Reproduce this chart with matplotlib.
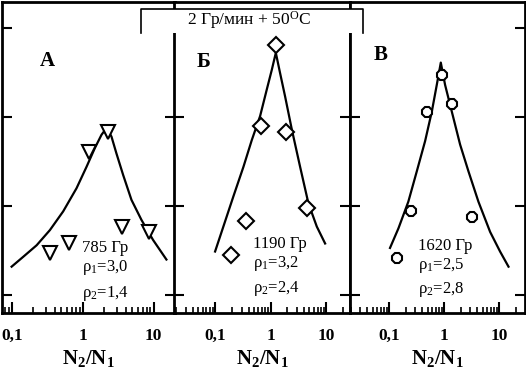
"""
Three panels: N2/N1 distributions after 2 Gy/min + 50 C irradiation.
Saves out.png (526x377).
"""

import matplotlib
matplotlib.use("Agg")
import matplotlib.pyplot as plt
from matplotlib.patches import Rectangle
from matplotlib.lines import Line2D
from matplotlib.ticker import LogLocator, NullFormatter, FixedLocator, FixedFormatter


# =======================
# DATA
# =======================
# panel A (785 Gy) - triangles
a_pts_x = [0.34, 0.63, 1.22, 2.25, 3.54, 8.5]
a_pts_y = [0.47, 0.59, 1.61, 1.83, 0.77, 0.71]
a_fit_x = [0.099, 0.144, 0.223, 0.343, 0.528, 0.815, 1.127, 1.476, 1.834, 2.157,
           2.535, 2.98, 3.70, 4.85, 6.71, 9.78, 15.1]
a_fit_y = [0.32, 0.43, 0.56, 0.73, 0.94, 1.20, 1.44, 1.65, 1.80, 1.875,
           1.78, 1.59, 1.35, 1.07, 0.845, 0.62, 0.40]

# panel B (1190 Gy) - diamonds
b_pts_x = [0.194, 0.362, 0.675, 1.256, 1.90, 4.55]
b_pts_y = [0.45, 0.83, 1.90, 2.81, 1.83, 0.98]
b_fit_x = [0.10, 0.141, 0.214, 0.324, 0.458, 0.647, 0.855, 1.052, 1.242,
           1.484, 1.824, 2.41, 3.40, 4.80, 6.79, 9.59]
b_fit_y = [0.49, 0.77, 1.11, 1.44, 1.74, 2.01, 2.31, 2.53, 2.72,
           2.49, 2.23, 1.86, 1.44, 1.03, 0.77, 0.58]

# panel C (1620 Gy) - circles
c_pts_x = [0.140, 0.251, 0.49, 0.92, 1.40, 3.23]
c_pts_y = [0.42, 0.94, 2.05, 2.47, 2.15, 0.88]
c_fit_x = [0.104, 0.148, 0.224, 0.319, 0.452, 0.598, 0.736, 0.871, 1.042,
           1.380, 1.954, 2.77, 4.20, 6.86, 10.4, 14.8]
c_fit_y = [0.53, 0.75, 1.05, 1.39, 1.73, 2.06, 2.36, 2.61, 2.36,
           2.06, 1.69, 1.39, 1.05, 0.71, 0.49, 0.32]

letters = ["A", "Б", "В"]
notes = [
    ["785 Гр", r"$\mathrm{\rho_1}$=3,0", r"$\mathrm{\rho_2}$=1,4"],
    ["1190 Гр", r"$\mathrm{\rho_1}$=3,2", r"$\mathrm{\rho_2}$=2,4"],
    ["1620 Гр", r"$\mathrm{\rho_1}$=2,5", r"$\mathrm{\rho_2}$=2,8"],
]
x_ticks = [0.1, 1, 10]
x_tick_labels = ["0,1", "1", "10"]
box_title = r"2 Гр/мин + 50$^{\mathrm{O}}$C"


# =======================
# LAYOUT
# =======================
W, H = 526, 377
PANEL_PX = [(2, 175), (174, 350), (350, 525)]  # left/right edges, pixels
TOP_PX, BOTTOM_PX = 2, 313
XLIMS = [(10 ** -1.14, 10 ** 1.30), (10 ** -1.74, 10 ** 1.43), (10 ** -1.71, 10 ** 1.47)]
YLIM = (-0.2, 3.29)
MARKERS = [("v", 10), ("D", 8.5), ("8", 8)]
LETTER_POS = [(0.26, 0.81), (0.17, 0.807), (0.177, 0.83)]
NOTE_POS = [(0.462, [0.209, 0.145, 0.064]),
            (0.449, [0.222, 0.158, 0.080]),
            (0.389, [0.215, 0.154, 0.077])]

plt.rcParams["font.family"] = ["Liberation Serif", "DejaVu Serif"]
plt.rcParams["mathtext.fontset"] = "custom"
plt.rcParams["mathtext.rm"] = "Liberation Serif"
plt.rcParams["mathtext.it"] = "Liberation Serif:italic"
plt.rcParams["mathtext.bf"] = "Liberation Serif:bold"


def style_axis(ax, xlim):
    ax.set_xscale("log")
    ax.set_xlim(*xlim)
    ax.set_ylim(*YLIM)
    for s in ax.spines.values():
        s.set_linewidth(2)
    ax.xaxis.set_major_locator(FixedLocator(x_ticks))
    ax.xaxis.set_major_formatter(FixedFormatter(x_tick_labels))
    ax.xaxis.set_minor_locator(LogLocator(base=10, subs=range(2, 10)))
    ax.xaxis.set_minor_formatter(NullFormatter())
    ax.set_yticks([0, 1, 2, 3])
    ax.tick_params(axis="x", which="major", direction="in", length=8, width=1.5,
                   pad=11, labelsize=12.5)
    ax.tick_params(axis="x", which="minor", direction="in", length=4, width=1.2)
    ax.tick_params(axis="y", which="major", direction="in", length=7, width=1.5,
                   left=True, right=True, labelleft=False)
    for lbl in ax.get_xticklabels():
        lbl.set_fontweight("bold")
    ax.set_xlabel(r"$\mathbf{N_2/N_1}$", fontsize=15, labelpad=3)


def main() -> None:
    fig = plt.figure(figsize=(W / 100, H / 100), dpi=100)

    panels = [
        (a_pts_x, a_pts_y, a_fit_x, a_fit_y),
        (b_pts_x, b_pts_y, b_fit_x, b_fit_y),
        (c_pts_x, c_pts_y, c_fit_x, c_fit_y),
    ]

    for i, (px, py, fx, fy) in enumerate(panels):
        l, r = PANEL_PX[i]
        ax = fig.add_axes([l / W, 1 - BOTTOM_PX / H, (r - l) / W, (BOTTOM_PX - TOP_PX) / H])
        style_axis(ax, XLIMS[i])

        ax.plot(fx, fy, color="black", lw=1.6)
        m, ms = MARKERS[i]
        ax.plot(px, py, linestyle="none", marker=m, markersize=ms,
                markerfacecolor="white", markeredgecolor="black", markeredgewidth=1.5)

        lx, ly = LETTER_POS[i]
        ax.text(lx, ly, letters[i], transform=ax.transAxes, fontsize=15,
                fontweight="bold", ha="center", va="center")
        nx, nys = NOTE_POS[i]
        for txt, ny in zip(notes[i], nys):
            ax.text(nx, ny, txt, transform=ax.transAxes, fontsize=12,
                    ha="left", va="center")

    # title box over the top of the middle panel (bottom side open)
    x0, x1, y0, y1 = 141 / W, 363 / W, 1 - 33 / H, 1 - 9 / H
    fig.patches.append(Rectangle((x0, y0), x1 - x0, y1 - y0, transform=fig.transFigure,
                                 facecolor="white", edgecolor="none", zorder=5))
    fig.lines.append(Line2D([x0, x0, x1, x1], [y0, y1, y1, y0], transform=fig.transFigure,
                            color="black", lw=1.2, zorder=6))
    fig.text(249 / W, 1 - 20 / H, box_title, fontsize=12.5, ha="center", va="center",
             zorder=7)

    fig.savefig("out.png", dpi=100)


if __name__ == "__main__":
    main()
